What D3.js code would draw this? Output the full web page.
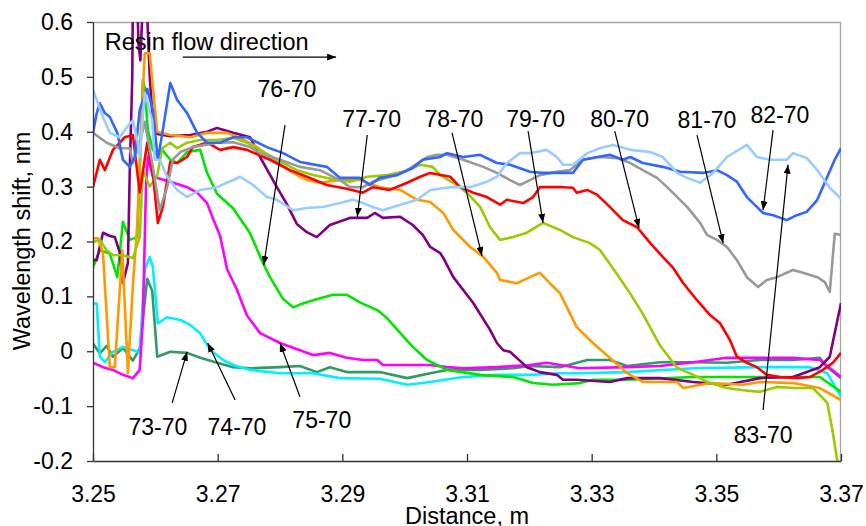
<!DOCTYPE html>
<html>
<head>
<meta charset="utf-8">
<script src="https://cdn.jsdelivr.net/npm/d3@7"></script>
<style>
  body { margin: 0; background: #fff; }
  svg text { font-family: "Liberation Sans", Arial, sans-serif; fill: #000; }
</style>
</head>
<body>
<div id="chart"></div>
<script>
// wavelength shift per grating pair, [distance m, shift nm]
const s73 = [[3.2500,0.014],[3.2511,-0.004],[3.2522,0.010],[3.2532,-0.010],[3.2548,0.006],[3.2564,-0.017],[3.2575,0.005],[3.2587,0.132],[3.2595,0.110],[3.2603,-0.010],[3.2624,-0.001],[3.2651,-0.003],[3.2672,-0.012],[3.2699,-0.021],[3.2725,-0.029],[3.2752,-0.031],[3.2800,-0.029],[3.2832,-0.027],[3.2859,-0.038],[3.2880,-0.029],[3.2907,-0.038],[3.2960,-0.038],[3.3004,-0.049],[3.3041,-0.040],[3.3068,-0.034],[3.3121,-0.034],[3.3174,-0.031],[3.3201,-0.027],[3.3249,-0.029],[3.3293,-0.016],[3.3329,-0.016],[3.3357,-0.027],[3.3410,-0.020],[3.3463,-0.020],[3.3517,-0.021],[3.3570,-0.016],[3.3623,-0.016],[3.3666,-0.012],[3.3678,-0.029],[3.3700,-0.049]];
const s74 = [[3.2500,0.087],[3.2506,0.087],[3.2511,-0.010],[3.2519,-0.020],[3.2532,-0.001],[3.2548,0.008],[3.2564,0.002],[3.2575,-0.003],[3.2583,0.148],[3.2591,0.172],[3.2596,0.154],[3.2604,0.051],[3.2619,0.062],[3.2640,0.057],[3.2656,0.048],[3.2672,0.033],[3.2688,0.002],[3.2709,-0.016],[3.2725,-0.025],[3.2752,-0.034],[3.2800,-0.040],[3.2853,-0.040],[3.2896,-0.049],[3.2960,-0.050],[3.3004,-0.061],[3.3041,-0.056],[3.3094,-0.047],[3.3148,-0.043],[3.3201,-0.043],[3.3249,-0.040],[3.3281,-0.040],[3.3357,-0.038],[3.3463,-0.031],[3.3570,-0.029],[3.3650,-0.029],[3.3678,-0.040],[3.3700,-0.083]];
const s75 = [[3.2500,-0.021],[3.2516,-0.029],[3.2532,-0.034],[3.2548,-0.043],[3.2564,-0.049],[3.2575,-0.034],[3.2580,0.057],[3.2585,0.300],[3.2588,0.355],[3.2596,0.318],[3.2624,0.309],[3.2651,0.299],[3.2667,0.289],[3.2683,0.270],[3.2693,0.240],[3.2704,0.210],[3.2715,0.150],[3.2731,0.112],[3.2747,0.065],[3.2757,0.050],[3.2768,0.033],[3.2800,0.015],[3.2832,0.002],[3.2853,-0.007],[3.2880,-0.003],[3.2907,-0.012],[3.2933,-0.016],[3.2956,-0.016],[3.2965,-0.025],[3.3041,-0.025],[3.3068,-0.029],[3.3094,-0.031],[3.3148,-0.029],[3.3201,-0.025],[3.3228,-0.021],[3.3281,-0.031],[3.3357,-0.029],[3.3410,-0.027],[3.3463,-0.020],[3.3517,-0.012],[3.3570,-0.012],[3.3623,-0.012],[3.3666,-0.016],[3.3700,-0.047]];
const s76 = [[3.2500,0.153],[3.2511,0.184],[3.2527,0.178],[3.2539,0.135],[3.2548,0.236],[3.2559,0.203],[3.2571,0.208],[3.2575,0.330],[3.2580,0.494],[3.2583,0.480],[3.2588,0.403],[3.2596,0.367],[3.2603,0.358],[3.2611,0.367],[3.2624,0.349],[3.2635,0.343],[3.2651,0.363],[3.2672,0.367],[3.2683,0.325],[3.2699,0.287],[3.2725,0.260],[3.2752,0.215],[3.2773,0.160],[3.2784,0.135],[3.2805,0.095],[3.2821,0.080],[3.2832,0.085],[3.2853,0.093],[3.2885,0.103],[3.2907,0.103],[3.2928,0.089],[3.2956,0.075],[3.2972,0.060],[3.2993,0.033],[3.3013,0.008],[3.3036,-0.016],[3.3068,-0.034],[3.3121,-0.043],[3.3174,-0.047],[3.3206,-0.058],[3.3238,-0.061],[3.3281,-0.058],[3.3302,-0.052],[3.3357,-0.052],[3.3463,-0.047],[3.3570,-0.047],[3.3666,-0.047],[3.3700,-0.074]];
const s77 = [[3.2500,0.166],[3.2506,0.166],[3.2516,0.216],[3.2527,0.210],[3.2535,0.208],[3.2543,0.180],[3.2548,0.124],[3.2556,0.161],[3.2559,0.330],[3.2563,0.500],[3.2564,0.640],[3.2571,0.640],[3.2573,0.560],[3.2576,0.530],[3.2580,0.640],[3.2586,0.640],[3.2591,0.500],[3.2596,0.420],[3.2603,0.396],[3.2624,0.392],[3.2656,0.394],[3.2683,0.400],[3.2699,0.407],[3.2725,0.398],[3.2752,0.390],[3.2768,0.354],[3.2795,0.299],[3.2811,0.268],[3.2827,0.232],[3.2843,0.217],[3.2859,0.208],[3.2880,0.230],[3.2912,0.243],[3.2940,0.243],[3.2952,0.252],[3.2965,0.243],[3.2993,0.245],[3.3013,0.230],[3.3029,0.212],[3.3041,0.190],[3.3057,0.179],[3.3062,0.170],[3.3078,0.135],[3.3110,0.088],[3.3137,0.039],[3.3148,0.015],[3.3158,0.002],[3.3169,-0.001],[3.3196,-0.029],[3.3217,-0.038],[3.3244,-0.043],[3.3254,-0.052],[3.3276,-0.052],[3.3329,-0.056],[3.3357,-0.049],[3.3410,-0.049],[3.3463,-0.056],[3.3517,-0.061],[3.3570,-0.049],[3.3623,-0.047],[3.3666,-0.029],[3.3682,-0.010],[3.3700,0.088]];
const s78 = [[3.2500,0.206],[3.2508,0.206],[3.2516,0.179],[3.2527,-0.029],[3.2535,-0.029],[3.2547,0.184],[3.2556,-0.040],[3.2564,0.120],[3.2571,0.230],[3.2577,0.400],[3.2583,0.543],[3.2591,0.543],[3.2596,0.482],[3.2603,0.400],[3.2624,0.394],[3.2656,0.390],[3.2683,0.398],[3.2715,0.398],[3.2736,0.389],[3.2763,0.372],[3.2789,0.349],[3.2821,0.325],[3.2843,0.312],[3.2864,0.307],[3.2896,0.312],[3.2928,0.312],[3.2960,0.299],[3.2993,0.294],[3.3020,0.276],[3.3041,0.272],[3.3062,0.252],[3.3078,0.221],[3.3105,0.190],[3.3126,0.172],[3.3148,0.143],[3.3153,0.130],[3.3180,0.124],[3.3201,0.135],[3.3217,0.143],[3.3233,0.124],[3.3249,0.106],[3.3276,0.044],[3.3302,0.015],[3.3329,-0.012],[3.3357,-0.040],[3.3382,-0.056],[3.3437,-0.056],[3.3447,-0.067],[3.3490,-0.058],[3.3543,-0.061],[3.3570,-0.056],[3.3623,-0.058],[3.3666,-0.067],[3.3700,-0.089]];
const s79 = [[3.2500,0.199],[3.2511,0.203],[3.2522,0.184],[3.2532,0.175],[3.2548,0.175],[3.2564,0.170],[3.2575,0.208],[3.2580,0.330],[3.2591,0.300],[3.2603,0.320],[3.2611,0.370],[3.2624,0.380],[3.2635,0.370],[3.2651,0.380],[3.2672,0.385],[3.2699,0.385],[3.2725,0.389],[3.2747,0.380],[3.2768,0.367],[3.2795,0.349],[3.2827,0.330],[3.2853,0.321],[3.2891,0.312],[3.2912,0.309],[3.2940,0.318],[3.2972,0.321],[3.2997,0.327],[3.3025,0.340],[3.3045,0.336],[3.3057,0.321],[3.3078,0.307],[3.3100,0.289],[3.3121,0.263],[3.3137,0.226],[3.3153,0.203],[3.3174,0.208],[3.3196,0.216],[3.3222,0.234],[3.3249,0.221],[3.3270,0.208],[3.3297,0.197],[3.3313,0.185],[3.3341,0.140],[3.3362,0.105],[3.3382,0.068],[3.3410,0.010],[3.3437,-0.030],[3.3463,-0.043],[3.3490,-0.058],[3.3517,-0.067],[3.3543,-0.071],[3.3570,-0.074],[3.3597,-0.065],[3.3623,-0.067],[3.3655,-0.067],[3.3678,-0.094],[3.3687,-0.149],[3.3694,-0.199],[3.3698,-0.260]];
const s80 = [[3.2500,0.299],[3.2511,0.349],[3.2519,0.330],[3.2532,0.367],[3.2551,0.390],[3.2564,0.394],[3.2575,0.289],[3.2587,0.380],[3.2596,0.325],[3.2604,0.234],[3.2612,0.263],[3.2624,0.345],[3.2635,0.343],[3.2651,0.354],[3.2660,0.372],[3.2683,0.380],[3.2704,0.367],[3.2725,0.372],[3.2747,0.367],[3.2784,0.349],[3.2816,0.330],[3.2843,0.318],[3.2875,0.303],[3.2907,0.296],[3.2933,0.289],[3.2949,0.299],[3.2976,0.294],[3.3004,0.307],[3.3025,0.318],[3.3041,0.325],[3.3073,0.318],[3.3089,0.299],[3.3110,0.289],[3.3132,0.281],[3.3153,0.267],[3.3164,0.276],[3.3190,0.270],[3.3206,0.281],[3.3217,0.299],[3.3254,0.299],[3.3270,0.298],[3.3276,0.289],[3.3293,0.294],[3.3309,0.285],[3.3329,0.263],[3.3350,0.239],[3.3373,0.226],[3.3394,0.197],[3.3414,0.172],[3.3430,0.153],[3.3447,0.124],[3.3469,0.093],[3.3490,0.066],[3.3506,0.051],[3.3522,0.020],[3.3533,-0.010],[3.3549,-0.021],[3.3565,-0.029],[3.3581,-0.043],[3.3602,-0.047],[3.3629,-0.049],[3.3650,-0.047],[3.3671,-0.034],[3.3687,-0.021],[3.3700,-0.003]];
const s81 = [[3.2500,0.398],[3.2522,0.380],[3.2543,0.370],[3.2559,0.370],[3.2564,0.343],[3.2575,0.380],[3.2583,0.418],[3.2596,0.336],[3.2607,0.257],[3.2619,0.299],[3.2628,0.349],[3.2640,0.363],[3.2660,0.372],[3.2699,0.380],[3.2725,0.381],[3.2752,0.372],[3.2768,0.361],[3.2800,0.349],[3.2832,0.336],[3.2864,0.330],[3.2896,0.312],[3.2912,0.299],[3.2933,0.299],[3.2949,0.309],[3.2976,0.318],[3.3004,0.330],[3.3036,0.354],[3.3052,0.358],[3.3068,0.358],[3.3094,0.349],[3.3126,0.336],[3.3148,0.325],[3.3169,0.312],[3.3185,0.303],[3.3201,0.312],[3.3217,0.321],[3.3244,0.327],[3.3265,0.330],[3.3286,0.349],[3.3313,0.354],[3.3341,0.352],[3.3362,0.343],[3.3382,0.330],[3.3405,0.316],[3.3421,0.299],[3.3430,0.289],[3.3453,0.263],[3.3474,0.234],[3.3485,0.212],[3.3501,0.203],[3.3517,0.190],[3.3533,0.166],[3.3549,0.135],[3.3567,0.117],[3.3581,0.130],[3.3597,0.135],[3.3623,0.148],[3.3639,0.143],[3.3662,0.135],[3.3674,0.126],[3.3682,0.108],[3.3690,0.214],[3.3700,0.212]];
const s82 = [[3.2500,0.398],[3.2506,0.434],[3.2511,0.452],[3.2519,0.434],[3.2527,0.427],[3.2539,0.398],[3.2548,0.349],[3.2559,0.336],[3.2567,0.354],[3.2575,0.440],[3.2587,0.478],[3.2596,0.440],[3.2604,0.349],[3.2612,0.403],[3.2624,0.489],[3.2635,0.458],[3.2651,0.434],[3.2667,0.398],[3.2683,0.380],[3.2704,0.380],[3.2725,0.390],[3.2747,0.390],[3.2779,0.372],[3.2805,0.361],[3.2832,0.345],[3.2875,0.336],[3.2896,0.316],[3.2928,0.316],[3.2944,0.303],[3.2960,0.316],[3.2988,0.321],[3.3013,0.334],[3.3029,0.349],[3.3057,0.354],[3.3068,0.361],[3.3094,0.354],[3.3121,0.358],[3.3148,0.343],[3.3169,0.340],[3.3201,0.327],[3.3222,0.325],[3.3254,0.325],[3.3270,0.325],[3.3286,0.349],[3.3309,0.354],[3.3329,0.358],[3.3350,0.349],[3.3362,0.354],[3.3382,0.343],[3.3414,0.336],[3.3442,0.327],[3.3479,0.325],[3.3501,0.330],[3.3517,0.321],[3.3533,0.309],[3.3549,0.281],[3.3565,0.263],[3.3575,0.252],[3.3591,0.248],[3.3613,0.239],[3.3629,0.248],[3.3645,0.254],[3.3662,0.276],[3.3678,0.318],[3.3690,0.349],[3.3700,0.370]];
const s83 = [[3.2500,0.476],[3.2506,0.458],[3.2516,0.427],[3.2527,0.398],[3.2543,0.390],[3.2555,0.409],[3.2564,0.421],[3.2571,0.385],[3.2575,0.354],[3.2583,0.471],[3.2595,0.421],[3.2599,0.349],[3.2607,0.349],[3.2619,0.318],[3.2635,0.294],[3.2651,0.281],[3.2672,0.294],[3.2699,0.299],[3.2725,0.312],[3.2736,0.318],[3.2757,0.303],[3.2779,0.281],[3.2795,0.276],[3.2821,0.257],[3.2843,0.261],[3.2869,0.263],[3.2896,0.270],[3.2917,0.276],[3.2933,0.270],[3.2949,0.263],[3.2965,0.257],[3.2993,0.267],[3.3020,0.276],[3.3041,0.294],[3.3073,0.299],[3.3105,0.299],[3.3132,0.309],[3.3148,0.318],[3.3164,0.343],[3.3185,0.361],[3.3201,0.361],[3.3228,0.367],[3.3244,0.354],[3.3254,0.340],[3.3270,0.340],[3.3293,0.361],[3.3313,0.370],[3.3334,0.376],[3.3362,0.367],[3.3394,0.363],[3.3414,0.354],[3.3437,0.325],[3.3453,0.316],[3.3474,0.307],[3.3495,0.325],[3.3517,0.354],[3.3549,0.376],[3.3565,0.354],[3.3586,0.349],[3.3613,0.349],[3.3623,0.361],[3.3645,0.352],[3.3662,0.330],[3.3682,0.298],[3.3700,0.278]];

const seriesNames = ['73-70', '74-70', '75-70', '76-70', '77-70', '78-70', '79-70', '80-70', '81-70', '82-70', '83-70'];
const seriesValues = [s73, s74, s75, s76, s77, s78, s79, s80, s81, s82, s83];
const seriesColors = ['#339966', '#00f0ff', '#ff00ff', '#00e600', '#800080', '#ff9900', '#99cc00', '#ff0000', '#999999', '#3366ff', '#99ccff'];

const xTicks = [3.25, 3.27, 3.29, 3.31, 3.33, 3.35, 3.37];
const yTicks = [-0.2, -0.1, 0, 0.1, 0.2, 0.3, 0.4, 0.5, 0.6];

// label text anchor + arrow tail/head, in data units
const callouts = [
    { label: '73-70', tx: 3.2604, ty: -0.153, x1: 3.2627, y1: -0.094, x2: 3.2651, y2: -0.001 },
    { label: '74-70', tx: 3.2731, ty: -0.153, x1: 3.2728, y1: -0.089, x2: 3.2684, y2: 0.015 },
    { label: '75-70', tx: 3.2867, ty: -0.139, x1: 3.2832, y1: -0.083, x2: 3.2800, y2: 0.015 },
    { label: '76-70', tx: 3.2811, ty: 0.463, x1: 3.2808, y1: 0.412, x2: 3.2774, y2: 0.157 },
    { label: '77-70', tx: 3.2947, ty: 0.408, x1: 3.2940, y1: 0.394, x2: 3.2924, y2: 0.245 },
    { label: '78-70', tx: 3.3079, ty: 0.408, x1: 3.3076, y1: 0.398, x2: 3.3124, y2: 0.174 },
    { label: '79-70', tx: 3.3210, ty: 0.408, x1: 3.3198, y1: 0.401, x2: 3.3222, y2: 0.234 },
    { label: '80-70', tx: 3.3345, ty: 0.408, x1: 3.3337, y1: 0.401, x2: 3.3376, y2: 0.225 },
    { label: '81-70', tx: 3.3485, ty: 0.407, x1: 3.3469, y1: 0.394, x2: 3.3511, y2: 0.197 },
    { label: '82-70', tx: 3.3602, ty: 0.416, x1: 3.3591, y1: 0.403, x2: 3.3575, y2: 0.257 },
    { label: '83-70', tx: 3.3575, ty: -0.168, x1: 3.3575, y1: -0.107, x2: 3.3615, y2: 0.340 }
];

function drawChart() {
    const width = 866, height = 526;
    const margin = { top: 22, right: 25, bottom: 65, left: 93 };
    const innerW = width - margin.left - margin.right;
    const innerH = height - margin.top - margin.bottom;

    const svg = d3.select('#chart').append('svg')
        .attr('width', width)
        .attr('height', height);

    const defs = svg.append('defs');
    defs.append('clipPath').attr('id', 'plot-clip')
        .append('rect').attr('width', innerW).attr('height', innerH);
    defs.append('marker')
        .attr('id', 'arrow')
        .attr('viewBox', '0 0 9 7')
        .attr('refX', 9).attr('refY', 3.5)
        .attr('markerWidth', 9).attr('markerHeight', 7)
        .attr('markerUnits', 'userSpaceOnUse')
        .attr('orient', 'auto')
        .append('path').attr('d', 'M0,0 L9,3.5 L0,7 Z').attr('fill', '#000');

    const g = svg.append('g').attr('transform', `translate(${margin.left},${margin.top})`);

    const x = d3.scaleLinear().domain([3.25, 3.37]).range([0, innerW]);
    const y = d3.scaleLinear().domain([-0.2, 0.6]).range([innerH, 0]);

    // light frame on top and right
    g.append('path')
        .attr('d', `M0,0.5 H${innerW - 0.5} V${innerH}`)
        .attr('fill', 'none')
        .attr('stroke', '#a6a6a6')
        .attr('stroke-width', 1.3);

    const line = d3.line().x(d => x(d[0])).y(d => y(d[1]));

    g.append('g')
        .attr('clip-path', 'url(#plot-clip)')
        .selectAll('path')
        .data(seriesValues)
        .join('path')
        .attr('d', line)
        .attr('fill', 'none')
        .attr('stroke', (d, i) => seriesColors[i])
        .attr('stroke-width', 2.6)
        .attr('stroke-linejoin', 'round');

    // axes
    const xAxis = d3.axisBottom(x).tickValues(xTicks)
        .tickFormat(d => d.toFixed(2))
        .tickSizeInner(-7).tickSizeOuter(0).tickPadding(25);
    const yAxis = d3.axisLeft(y).tickValues(yTicks)
        .tickFormat(d => Math.abs(d) < 1e-9 ? '0' : d.toFixed(1))
        .tickSizeInner(6).tickSizeOuter(0).tickPadding(14);

    const gx = g.append('g').attr('transform', `translate(0,${innerH})`).call(xAxis);
    const gy = g.append('g').call(yAxis);
    [gx, gy].forEach(a => {
        a.select('.domain').attr('stroke', '#333').attr('stroke-width', 1.3);
        a.selectAll('.tick line').attr('stroke', '#333').attr('stroke-width', 1.3);
        a.selectAll('.tick text')
            .style('font-family', '"Liberation Sans", Arial, sans-serif')
            .style('font-size', '23px')
            .attr('fill', '#000');
    });

    // axis titles
    svg.append('text')
        .attr('x', margin.left + innerW / 2)
        .attr('y', 524)
        .attr('text-anchor', 'middle')
        .style('font-size', '23.5px')
        .text('Distance, m');

    svg.append('text')
        .attr('transform', 'translate(30,241) rotate(-90)')
        .attr('text-anchor', 'middle')
        .style('font-size', '23.5px')
        .text('Wavelength shift, nm');

    // flow direction note
    g.append('text')
        .attr('x', x(3.2519)).attr('y', y(0.549))
        .style('font-size', '23.5px')
        .text('Resin flow direction');
    g.append('line')
        .attr('x1', x(3.2644)).attr('y1', y(0.536))
        .attr('x2', x(3.2890)).attr('y2', y(0.536))
        .attr('stroke', '#000').attr('stroke-width', 1.3)
        .attr('marker-end', 'url(#arrow)');

    // callout labels with arrows
    const cg = g.append('g');
    cg.selectAll('line')
        .data(callouts)
        .join('line')
        .attr('x1', d => x(d.x1)).attr('y1', d => y(d.y1))
        .attr('x2', d => x(d.x2)).attr('y2', d => y(d.y2))
        .attr('stroke', '#000').attr('stroke-width', 1.2)
        .attr('marker-end', 'url(#arrow)');
    cg.selectAll('text')
        .data(callouts)
        .join('text')
        .attr('x', d => x(d.tx)).attr('y', d => y(d.ty))
        .attr('text-anchor', 'middle')
        .style('font-size', '23px')
        .text(d => d.label);
}

drawChart();
</script>
</body>
</html>
